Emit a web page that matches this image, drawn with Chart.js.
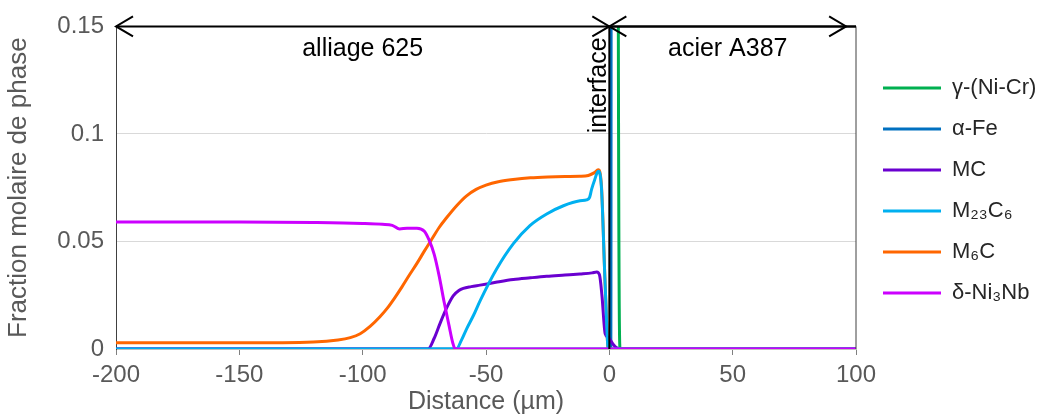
<!DOCTYPE html>
<html>
<head>
<meta charset="utf-8">
<script src="https://cdn.jsdelivr.net/npm/chart.js@4.4.1/dist/chart.umd.min.js"></script>
<style>
  html, body { margin: 0; padding: 0; background: #fff; }
  #wrap { width: 1043px; height: 419px; }
</style>
</head>
<body>
<div id="wrap"><canvas id="chart" width="1043" height="419"></canvas></div>
<script>
// Phase fractions vs distance (µm)
const gammaX = [-200, 3.5, 3.65, 4.4, 100];
const gammaY = [0.9, 0.9, 0.15, 0, 0];

const alphaX = [-200, 0.6, 1.1, 100];
const alphaY = [0, 0, 0.95, 0.95];

const mcX = [-200, -73.5, -71, -68.7, -66, -63.3, -61, -59.2, -56, -52.4, -46, -38.9, -32, -25.4, -18, -11.9, -7, -5.1, -4, -3, -1.7, -0.5, 0.5, 1.5, 2.5, 4, 100];
const mcY = [0, 0, 0.005, 0.0117, 0.019, 0.0247, 0.0272, 0.0282, 0.029, 0.0297, 0.031, 0.0323, 0.0331, 0.0338, 0.0344, 0.0349, 0.0354, 0.0358, 0.0345, 0.025, 0.0072, 0.0055, 0.004, 0.0022, 0.001, 0, 0];

const m23X = [-200, -62, -60, -57.8, -55, -52.4, -45.7, -38.9, -32.2, -25.4, -18.6, -11.9, -9.2, -8, -7.2, -6, -4.5, -3.2, -1.7, -0.4, 100];
const m23Y = [0, 0, 0.004, 0.0095, 0.0158, 0.0224, 0.0372, 0.049, 0.0574, 0.0628, 0.0666, 0.0689, 0.0693, 0.0705, 0.0742, 0.0785, 0.0826, 0.075, 0.030, 0, 0];

const m6X = [-200, -150, -120, -110, -105, -101, -97, -93, -90, -87, -84, -81, -78, -75, -72, -69, -66, -62, -58, -54, -50, -45, -39, -32, -25, -18, -12, -8.5, -6, -4.5, -3.2, -1.7, -0.4, 100];
const m6Y = [0.0029, 0.0029, 0.0033, 0.0042, 0.0053, 0.0071, 0.0105, 0.015, 0.019, 0.0238, 0.029, 0.0345, 0.0398, 0.0455, 0.051, 0.0565, 0.061, 0.0665, 0.0711, 0.0742, 0.0762, 0.0778, 0.0788, 0.0796, 0.080, 0.0802, 0.0803, 0.0807, 0.082, 0.0833, 0.076, 0.030, 0, 0];

const deltaX = [-200, -150, -120, -100, -92, -88, -85, -82, -78, -75, -73, -71, -69, -67, -65, -63.5, -62.5, 100];
const deltaY = [0.059, 0.059, 0.0588, 0.0584, 0.058, 0.0575, 0.0558, 0.0562, 0.0562, 0.0548, 0.0505, 0.044, 0.034, 0.022, 0.011, 0.003, 0, 0];

const seriesNames = ['γ-(Ni-Cr)', 'α-Fe', 'MC', 'M₂₃C₆', 'M₆C', 'δ-Ni₃Nb'];
const seriesColors = ['#00b050', '#0070c0', '#6a00d0', '#00b0f0', '#ff6600', '#cc00ff'];
// drawing order: lower number ends up on top
const seriesOrder = [5, 4, 2, 1, 3, 0];

// region annotations along the top of the plot
const regions = [
  { from: -200, to: 0, label: 'alliage 625' },
  { from: 0, to: 96, label: 'acier A387' }
];
const interfaceAt = 0;
const interfaceLabel = 'interface';

const xMin = -200, xMax = 100;
const yMin = 0, yMax = 0.15;

const FONT = '"Liberation Sans", Arial, sans-serif';

function points(xs, ys) {
  return xs.map((x, i) => ({ x: x, y: ys[i] }));
}

const allX = [gammaX, alphaX, mcX, m23X, m6X, deltaX];
const allY = [gammaY, alphaY, mcY, m23Y, m6Y, deltaY];

const datasets = seriesNames.map((name, i) => ({
  label: name,
  data: points(allX[i], allY[i]),
  borderColor: seriesColors[i],
  backgroundColor: seriesColors[i],
  borderWidth: 3,
  pointRadius: 0,
  cubicInterpolationMode: 'monotone',
  fill: false,
  order: seriesOrder[i]
}));

function drawArrowHead(ctx, tipX, tipY, dir) {
  const len = 17, half = 10;
  ctx.beginPath();
  ctx.moveTo(tipX + dir * len, tipY - half);
  ctx.lineTo(tipX, tipY);
  ctx.lineTo(tipX + dir * len, tipY + half);
  ctx.stroke();
}

const annotationPlugin = {
  id: 'annotations',
  afterDatasetsDraw(chart) {
    const { ctx, scales: { x, y } } = chart;
    const yTop = y.getPixelForValue(yMax);
    const yBottom = y.getPixelForValue(yMin);
    ctx.save();

    // right frame line
    ctx.strokeStyle = '#404040';
    ctx.lineWidth = 1;
    ctx.beginPath();
    ctx.moveTo(x.getPixelForValue(xMax), yTop);
    ctx.lineTo(x.getPixelForValue(xMax), yBottom);
    ctx.stroke();

    // interface line
    const xi = x.getPixelForValue(interfaceAt);
    ctx.strokeStyle = '#000';
    ctx.lineWidth = 2;
    ctx.beginPath();
    ctx.moveTo(xi, yTop);
    ctx.lineTo(xi, yBottom);
    ctx.stroke();

    // double arrows and region labels
    ctx.lineWidth = 2;
    ctx.fillStyle = '#000';
    ctx.font = '25px ' + FONT;
    ctx.textAlign = 'center';
    ctx.textBaseline = 'alphabetic';
    regions.forEach(r => {
      const x1 = x.getPixelForValue(r.from);
      const x2 = x.getPixelForValue(r.to);
      ctx.beginPath();
      ctx.moveTo(x1, yTop);
      ctx.lineTo(x.getPixelForValue(xMax), yTop);
      ctx.stroke();
      drawArrowHead(ctx, x1, yTop, 1);
      drawArrowHead(ctx, x2, yTop, -1);
      ctx.fillText(r.label, x.getPixelForValue((r.from + r.to) / 2), yTop + 30);
    });

    // interface label, rotated
    ctx.save();
    ctx.translate(xi - 3, yTop + 11);
    ctx.rotate(-Math.PI / 2);
    ctx.textAlign = 'right';
    ctx.textBaseline = 'alphabetic';
    ctx.fillText(interfaceLabel, 0, 0);
    ctx.restore();

    ctx.restore();
  }
};

new Chart(document.getElementById('chart'), {
  type: 'line',
  data: { datasets: datasets },
  plugins: [annotationPlugin],
  options: {
    responsive: false,
    animation: false,
    devicePixelRatio: 1,
    layout: { padding: { top: 21, left: 0, right: 0, bottom: 0 } },
    plugins: {
      tooltip: { enabled: false },
      legend: {
        position: 'right',
        align: 'start',
        maxWidth: 179,
        title: { display: true, text: '', font: { size: 10 }, padding: { top: 25, bottom: 0 } },
        labels: {
          usePointStyle: true,
          pointStyle: 'line',
          pointStyleWidth: 58,
          padding: 19,
          color: '#262626',
          font: { family: FONT, size: 22 },
          sort: (a, b) => a.datasetIndex - b.datasetIndex
        }
      }
    },
    scales: {
      x: {
        type: 'linear',
        min: xMin,
        max: xMax,
        ticks: {
          stepSize: 50,
          color: '#595959',
          font: { family: FONT, size: 24 },
          padding: 6,
          maxRotation: 0
        },
        grid: { drawOnChartArea: false, drawTicks: true, tickLength: 6, color: '#808080' },
        border: { color: '#bfbfbf' },
        title: {
          display: true,
          text: 'Distance (µm)',
          color: '#595959',
          font: { family: FONT, size: 25 },
          padding: { top: 0, bottom: 2 }
        },
        afterFit: s => { s.height = 70; }
      },
      y: {
        min: yMin,
        max: yMax,
        ticks: {
          stepSize: 0.05,
          color: '#595959',
          font: { family: FONT, size: 24 },
          padding: 12,
          callback: v => String(Number(v.toFixed(2)))
        },
        grid: { color: '#d9d9d9', drawTicks: false },
        border: { color: '#404040' },
        title: {
          display: true,
          text: 'Fraction molaire de phase',
          color: '#595959',
          font: { family: FONT, size: 26 },
          padding: { top: 3, bottom: 0 }
        },
        afterFit: s => { s.width = 116; }
      },
      // empty spacer between plot area and legend
      gap: {
        position: 'right',
        grid: { display: false },
        border: { display: false },
        ticks: { display: false },
        afterFit: s => { s.width = 8; }
      }
    }
  }
});
</script>
</body>
</html>
